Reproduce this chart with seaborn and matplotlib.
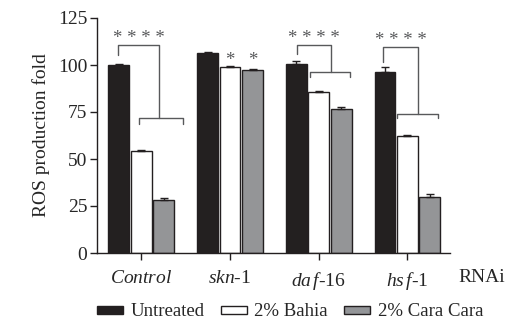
import numpy as np
import pandas as pd
import matplotlib
matplotlib.use("Agg")
import matplotlib.pyplot as plt
import matplotlib.transforms as mtransforms
from matplotlib.patches import Patch
import seaborn as sns

groups = ["Control", "skn-1", "daf-16", "hsf-1"]
treatments = ["Untreated", "2% Bahia", "2% Cara Cara"]
untreated = [100.0, 106.2, 100.4, 96.1]
bahia = [54.3, 98.8, 85.5, 62.0]
cara = [28.3, 97.3, 76.7, 29.7]
err_untreated = [0.3, 0.8, 1.9, 2.6]
err_bahia = [0.6, 0.5, 0.6, 0.7]
err_cara = [1.2, 0.5, 0.8, 1.5]
tick_labels = [r"$\mathit{Control}$", r"$\mathit{skn}$-1", r"$\mathit{da\,f}$-16", r"$\mathit{hs\,f}$-1"]
colors = ["#231f20", "#ffffff", "#939598"]

df = pd.DataFrame({
    "group": groups * 3,
    "treatment": np.repeat(treatments, 4),
    "value": untreated + bahia + cara,
    "err": err_untreated + err_bahia + err_cara,
})

sns.set_style("ticks")
plt.rcParams["font.family"] = ["Liberation Serif", "DejaVu Serif"]
plt.rcParams["mathtext.fontset"] = "custom"
plt.rcParams["mathtext.it"] = "Liberation Serif:italic"
plt.rcParams["mathtext.rm"] = "Liberation Serif"

fig = plt.figure(figsize=(5.07, 3.21), dpi=100)
ax = fig.add_axes([97 / 507, 1 - 253 / 321, 353 / 507, 235 / 321])

sns.barplot(data=df, x="group", y="value", hue="treatment", order=groups,
            hue_order=treatments, palette=colors, width=0.76, gap=0.07,
            edgecolor="#231f20", linewidth=1.0, errorbar=None, legend=False, ax=ax)

# upward-only error bars on top of the bars
for i, t in enumerate(treatments):
    sub = df[df.treatment == t].set_index("group").loc[groups]
    xs = np.arange(4) + (i - 1) * 0.76 / 3
    ax.errorbar(xs, sub["value"], yerr=[np.zeros(4), sub["err"]], fmt="none",
                ecolor="#231f20", elinewidth=1.0, capsize=3, capthick=1.0)

ax.set_xlim(-0.5, 3.48)
ax.set_ylim(0, 125)
ax.set_yticks([0, 25, 50, 75, 100, 125])
ax.set_xticks(range(4))
ax.set_xticklabels(tick_labels)
ax.tick_params(axis="both", labelsize=14, direction="out", length=5, width=1, color="#231f20")
ax.tick_params(axis="y", pad=2)
ax.tick_params(axis="x", pad=7)
ax.set_xlabel("")
ax.set_ylabel("ROS production fold", fontsize=14, labelpad=6)
sns.despine(ax=ax)
for s in ["left", "bottom"]:
    ax.spines[s].set_linewidth(1.0)
    ax.spines[s].set_color("#231f20")

lc = "#58595b"
# significance brackets: (group x, left leg, top, left bottom, right leg, right bottom, hz left, hz right, hz bottom)
brackets = [
    (0, -0.26, 110.4, 105.5, 0.20, 71.6, -0.03, 0.47, 68.6),
    (2, -0.245, 110.6, 106.0, 0.143, 96.1, -0.10, 0.357, 93.8),
    (3, -0.28, 109.7, 101.4, 0.124, 73.9, -0.116, 0.34, 72.0),
]
for g, xl, top, yl, xr, yr, hl, hr, hb in brackets:
    ax.plot([g + xl, g + xl, g + xr, g + xr], [yl, top, top, yr], color=lc, lw=1.0, clip_on=False)
    ax.plot([g + hl, g + hl, g + hr, g + hr], [hb, yr, yr, hb], color=lc, lw=1.0, clip_on=False)
    ax.text(g + (xl + xr) / 2, top - 1.0, "* * * *", ha="center", va="bottom", fontsize=13.5,
            color=lc, clip_on=False)

for xs in [1.0, 1.253]:
    ax.text(xs, 98.0, "*", ha="center", va="bottom", fontsize=13.5, color=lc)

trans = mtransforms.blended_transform_factory(ax.transData, ax.transAxes)
ax.text(3.58, -0.105, "RNAi", transform=trans, ha="left", va="center", fontsize=14)

handles = [Patch(facecolor=c, edgecolor="#231f20", linewidth=1.0) for c in colors]
fig.legend(handles, treatments, loc="center left", bbox_to_anchor=(97 / 507, 1 - 312 / 321),
           ncol=3, frameon=False, fontsize=13.5, handlelength=1.4, handleheight=0.28,
           handletextpad=0.4, columnspacing=0.85, borderaxespad=0, borderpad=0)

fig.savefig("out.png", dpi=100)
